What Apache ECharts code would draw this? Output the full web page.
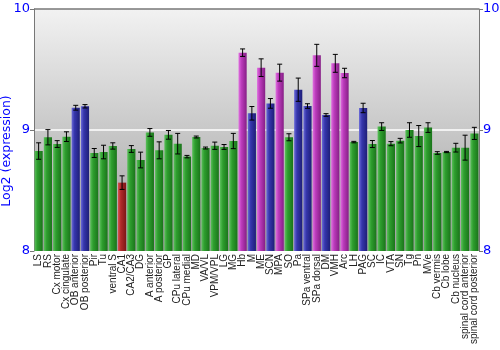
<!DOCTYPE html>
<html>
<head>
<meta charset="utf-8">
<script src="https://cdn.jsdelivr.net/npm/echarts@6/dist/echarts.min.js"></script>
<style>html,body{margin:0;padding:0;background:#fff}#c{width:500px;height:350px}</style>
</head>
<body>
<div id="c"></div>
<script>
const categories = ["LS","RS","Cx motor","Cx cingulate","OB anterior","OB posterior","Pir","Tu","ventral S","CA1","CA2/CA3","DG","A anterior","A posterior","GP","CPu lateral","CPu medial","MD","VA/VL","VPM/VPL","LG","MG","Hb","M","ME","SCN","MPA","SO","Pa","SPa ventral","SPa dorsal","DM","VMH","Arc","LH","PAG","SC","IC","VTA","SN","Tg","Pn","MVe","Cb vermis","Cb lobe","Cb nucleus","spinal cord anterior","spinal cord posterior"];
const values = [8.826,8.94,8.884,8.945,9.184,9.196,8.81,8.818,8.868,8.565,8.843,8.752,8.98,8.832,8.96,8.887,8.78,8.942,8.851,8.87,8.86,8.909,9.639,9.138,9.515,9.22,9.474,8.94,9.333,9.198,9.617,9.124,9.551,9.471,8.9,9.182,8.884,9.028,8.887,8.912,9.0,8.95,9.02,8.81,8.818,8.854,8.854,8.972];
const errors = [0.068,0.063,0.028,0.04,0.02,0.014,0.037,0.056,0.026,0.056,0.028,0.065,0.032,0.07,0.036,0.085,0.01,0.008,0.008,0.03,0.02,0.063,0.031,0.056,0.073,0.04,0.07,0.029,0.096,0.019,0.091,0.011,0.074,0.039,0.006,0.039,0.029,0.032,0.017,0.019,0.06,0.087,0.04,0.011,0.005,0.036,0.103,0.05];
const groups = ["g","g","g","g","b","b","g","g","g","r","g","g","g","g","g","g","g","g","g","g","g","g","m","b","m","b","m","g","b","b","m","b","m","m","g","b","g","g","g","g","g","g","g","g","g","g","g","g"];
const yTicks = [8, 9, 10];

const palette = {
  g: ['#5cc05c', '#2e9e2e', '#1a741a'],
  b: ['#6a6ad8', '#3636ac', '#1e1e78'],
  r: ['#d85050', '#b02a2a', '#7c1616'],
  m: ['#e070e0', '#bc3cbc', '#861e86']
};
function grad(c) {
  return new echarts.graphic.LinearGradient(0, 0, 1, 0, [
    {offset: 0, color: c[0]}, {offset: 0.35, color: c[1]}, {offset: 1, color: c[2]}
  ]);
}
const barData = values.map((v, i) => ({value: v, itemStyle: {color: grad(palette[groups[i]])}}));
const errData = values.map((v, i) => [i, v - errors[i], v + errors[i]]);

const chart = echarts.init(document.getElementById('c'), null, {renderer: 'canvas'});
const yAxisBase = {
  type: 'value', min: yTicks[0], max: yTicks[yTicks.length - 1], interval: 1,
  axisLine: {show: true, lineStyle: {color: '#777', width: 1}},
  axisTick: {show: true, length: 4, lineStyle: {color: '#777'}},
  axisLabel: {color: '#0000ff', fontSize: 13, fontFamily: 'DejaVu Sans', margin: 4},
};
chart.setOption({
  animation: false,
  grid: {left: 34, right: 21, top: 9, bottom: 99, show: true, borderWidth: 0,
    outerBoundsMode: 'none', containLabel: false,
    backgroundColor: new echarts.graphic.LinearGradient(0, 0, 0, 1, [
      {offset: 0, color: '#f2f2f2'}, {offset: 1, color: '#9e9e9e'}])},
  xAxis: {
    type: 'category', data: categories,
    axisLine: {show: false}, axisTick: {show: false},
    axisLabel: {interval: 0, rotate: 90, fontSize: 10, fontFamily: 'Liberation Sans', color: '#222', margin: 3}
  },
  yAxis: [
    Object.assign({}, yAxisBase, {
      position: 'left',
      name: 'Log2 (expression)', nameLocation: 'middle', nameGap: 21, nameMoveOverlap: false,
      nameTextStyle: {color: '#0000ff', fontSize: 12.5, fontFamily: 'DejaVu Sans', padding: [0, 42, 0, 0]},
      splitLine: {show: true, lineStyle: {color: ['rgba(0,0,0,0)', '#ffffff', '#777'], width: 1.5}}
    }),
    Object.assign({}, yAxisBase, {position: 'right', splitLine: {show: false}})
  ],
  series: [
    {type: 'bar', data: barData, barCategoryGap: '12%', yAxisIndex: 0},
    {
      type: 'custom', yAxisIndex: 0, data: errData, z: 10,
      renderItem: function (params, api) {
        const x = api.coord([api.value(0), api.value(1)])[0];
        const lo = api.coord([api.value(0), api.value(1)])[1];
        const hi = api.coord([api.value(0), api.value(2)])[1];
        const w = 2.5;
        const st = {stroke: '#000', lineWidth: 1};
        return {type: 'group', children: [
          {type: 'line', shape: {x1: x, y1: lo, x2: x, y2: hi}, style: st},
          {type: 'line', shape: {x1: x - w, y1: lo, x2: x + w, y2: lo}, style: st},
          {type: 'line', shape: {x1: x - w, y1: hi, x2: x + w, y2: hi}, style: st}
        ]};
      }
    }
  ]
});
</script>
</body>
</html>
